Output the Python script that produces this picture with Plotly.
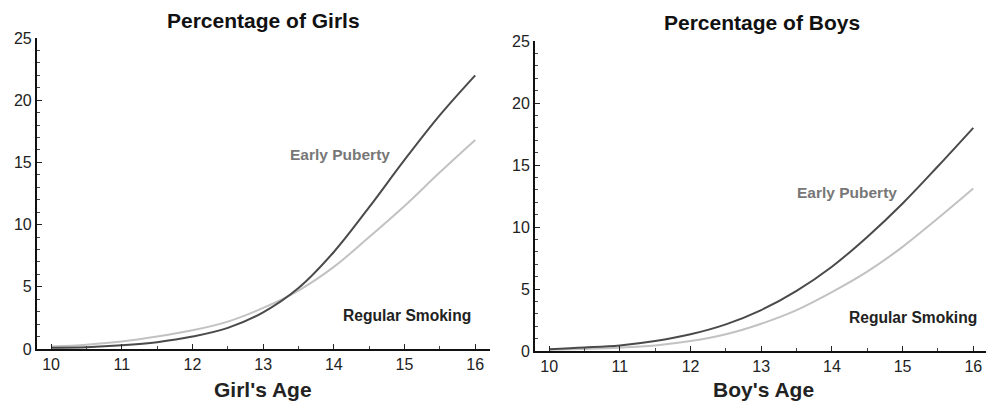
import plotly.graph_objects as go

ages = [10, 10.5, 11, 11.5, 12, 12.5, 13, 13.5, 14, 14.5, 15, 15.5, 16]
girls_smoking = [0.1, 0.15, 0.3, 0.55, 1.0, 1.7, 2.95, 4.9, 7.8, 11.4, 15.2, 18.8, 22.0]
girls_puberty = [0.2, 0.35, 0.6, 1.0, 1.5, 2.2, 3.3, 4.7, 6.6, 9.0, 11.5, 14.2, 16.8]
boys_smoking = [0.15, 0.28, 0.45, 0.8, 1.35, 2.15, 3.3, 4.85, 6.8, 9.2, 11.9, 14.9, 18.0]
boys_puberty = [0.1, 0.17, 0.27, 0.45, 0.8, 1.35, 2.2, 3.3, 4.75, 6.4, 8.4, 10.7, 13.1]
x_ticks = [10, 11, 12, 13, 14, 15, 16]
y_ticks = [0, 5, 10, 15, 20, 25]

DARK = "#4a4a4a"
LIGHT = "#c2c2c2"
FONT = "Liberation Sans, Arial, sans-serif"
H = 404.0

fig = go.Figure()
fig.add_trace(go.Scatter(x=ages, y=girls_puberty, mode="lines", line=dict(color=LIGHT, width=2, shape="spline"), xaxis="x", yaxis="y"))
fig.add_trace(go.Scatter(x=ages, y=girls_smoking, mode="lines", line=dict(color=DARK, width=2, shape="spline"), xaxis="x", yaxis="y"))
fig.add_trace(go.Scatter(x=ages, y=boys_puberty, mode="lines", line=dict(color=LIGHT, width=2, shape="spline"), xaxis="x2", yaxis="y2"))
fig.add_trace(go.Scatter(x=ages, y=boys_smoking, mode="lines", line=dict(color=DARK, width=2, shape="spline"), xaxis="x2", yaxis="y2"))

def xax(domain, anchor, rng):
    return dict(domain=domain, anchor=anchor, range=rng, tickvals=x_ticks, ticks="inside", ticklen=5,
                tickcolor="#222", showline=True, linecolor="#111", linewidth=2, showgrid=False, zeroline=False,
                tickfont=dict(family=FONT, size=16, color="#222"), ticklabeloverflow="allow",
                minor=dict(dtick=0.5, tick0=10, ticks="inside", ticklen=3, tickcolor="#444", showgrid=False))

def yax(domain, anchor):
    return dict(domain=domain, anchor=anchor, range=[0, 25], tickvals=y_ticks, ticks="inside", ticklen=5,
                tickcolor="#222", showline=True, linecolor="#111", linewidth=2, showgrid=False, zeroline=False,
                tickfont=dict(family=FONT, size=16, color="#222"),
                minor=dict(dtick=1, tick0=0, ticks="inside", ticklen=3, tickcolor="#444", showgrid=False))

def py(v):
    return 1 - v / H

fig.update_layout(
    width=986, height=404, margin=dict(l=0, r=0, t=0, b=0, autoexpand=False),
    paper_bgcolor="white", plot_bgcolor="white", showlegend=False,
    xaxis=xax([0.0375, 0.497], "y", [9.8, 16.21]),
    yaxis=yax([py(349), py(38)], "x"),
    xaxis2=xax([0.5426, 1.0], "y2", [9.8, 16.18]),
    yaxis2=yax([py(351), py(41)], "x2"),
)

def ann(text, x, y, size, color):
    fig.add_annotation(text=text, x=x, y=y, xref="paper", yref="paper", showarrow=False,
                       font=dict(family=FONT, size=size, color=color), xanchor="center", yanchor="middle")

ann("<b>Percentage of Girls</b>", 263 / 986, py(20), 21, "#111")
ann("<b>Percentage of Boys</b>", 762 / 986, py(22), 21, "#111")
ann("<b>Girl's Age</b>", 263 / 986, py(389), 21, "#222")
ann("<b>Boy's Age</b>", 763 / 986, py(389), 21, "#222")
ann("<b>Early Puberty</b>", 340 / 986, py(154), 15.5, "#777")
ann("<b>Regular Smoking</b>", 407 / 986, py(315), 15.6, "#222")
ann("<b>Early Puberty</b>", 847 / 986, py(192), 15.5, "#777")
ann("<b>Regular Smoking</b>", 913 / 986, py(317), 15.6, "#222")

fig.write_html("out.html", config={"displayModeBar": False},
               post_script="document.body.style.margin='0';document.body.style.overflow='hidden';")
